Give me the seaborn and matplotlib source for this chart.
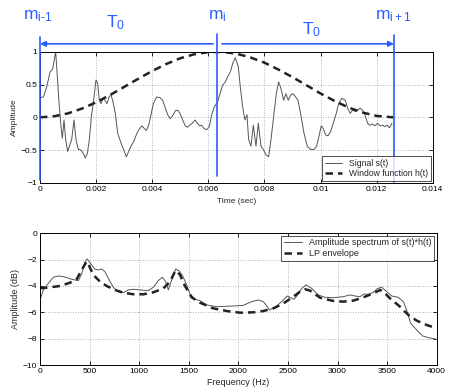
import numpy as np
import pandas as pd
import matplotlib
matplotlib.use("Agg")
import matplotlib.pyplot as plt
import seaborn as sns

# ---- data ----
sig_t = [0.0, 0.000119, 0.000238, 0.000357, 0.000452, 0.000559, 0.000619, 0.000689,
         0.000749, 0.000796, 0.000856, 0.000915, 0.000986, 0.001046, 0.001129, 0.001212,
         0.001284, 0.001367, 0.001426, 0.001497, 0.001569, 0.001616, 0.001688, 0.001759,
         0.001830, 0.001913, 0.001996, 0.002056, 0.002115, 0.002174, 0.002246, 0.002317,
         0.002388, 0.002460, 0.002531, 0.002590, 0.002685, 0.002769, 0.002888, 0.003006,
         0.003078, 0.003161, 0.003244, 0.003339, 0.003458, 0.003553, 0.003636, 0.003720,
         0.003791, 0.003874, 0.003957, 0.004040, 0.004159, 0.004278, 0.004373, 0.004456,
         0.004551, 0.004646, 0.004753, 0.004825, 0.004908, 0.004991, 0.005086, 0.005181,
         0.005264, 0.005336, 0.005431, 0.005526, 0.005609, 0.005692, 0.005764, 0.005847,
         0.005942, 0.006037, 0.006120, 0.006215, 0.006334, 0.006417, 0.006512, 0.006607,
         0.006690, 0.006785, 0.006868, 0.006963, 0.007070, 0.007141, 0.007224, 0.007308,
         0.007379, 0.007438, 0.007521, 0.007605, 0.007700, 0.007783, 0.007878, 0.007961,
         0.008056, 0.008151, 0.008234, 0.008329, 0.008424, 0.008507, 0.008590, 0.008685,
         0.008768, 0.008851, 0.008934, 0.009018, 0.009113, 0.009196, 0.009291, 0.009410,
         0.009529, 0.009648, 0.009766, 0.009861, 0.009944, 0.010027, 0.010099, 0.010182,
         0.010265, 0.010360, 0.010455, 0.010562, 0.010645, 0.010764, 0.010883, 0.010966,
         0.011061, 0.011144, 0.011239, 0.011322, 0.011405, 0.011500, 0.011583, 0.011678,
         0.011761, 0.011856, 0.011939, 0.012034, 0.012129, 0.012212, 0.012296, 0.012379,
         0.012463, 0.012546]
sig_v = [0.30, 0.31, 0.46, 0.69, 0.74, 1.00, 0.62, 0.16,
         -0.14, -0.32, -0.04, -0.34, -0.52, -0.44, -0.34, -0.04,
         -0.34, -0.49, -0.49, -0.52, -0.57, -0.62, -0.55, -0.34,
         0.01, 0.26, 0.57, 0.52, 0.26, 0.21, 0.29, 0.26,
         0.21, 0.31, 0.34, 0.26, 0.06, -0.24, -0.39, -0.52,
         -0.60, -0.52, -0.44, -0.37, -0.24, -0.17, -0.13, -0.17,
         -0.20, -0.12, 0.04, 0.21, 0.31, 0.30, 0.26, 0.16,
         0.04, -0.02, 0.04, 0.10, 0.11, 0.06, -0.04, -0.13,
         -0.15, -0.12, -0.09, -0.04, -0.09, -0.13, -0.12, -0.17,
         -0.19, -0.14, 0.04, 0.16, 0.24, 0.36, 0.49, 0.54,
         0.62, 0.69, 0.82, 0.91, 0.77, 0.46, 0.16, -0.04,
         0.04, -0.34, -0.44, -0.12, -0.44, -0.09, -0.44, -0.49,
         -0.57, -0.60, -0.34, 0.01, 0.36, 0.54, 0.44, 0.26,
         0.36, 0.26, 0.34, 0.36, 0.31, 0.26, 0.06, -0.24,
         -0.44, -0.49, -0.49, -0.44, -0.29, -0.13, -0.17, -0.27,
         -0.28, -0.22, -0.09, 0.06, 0.21, 0.29, 0.26, 0.14,
         0.06, 0.11, 0.09, 0.11, 0.14, 0.11, 0.04, -0.09,
         -0.12, -0.10, -0.13, -0.09, -0.13, -0.12, -0.14, -0.12,
         -0.16, -0.09]

win_t = [0.0, 0.0005, 0.001, 0.0015, 0.002, 0.0025, 0.003, 0.0035, 0.004, 0.0045,
         0.005, 0.0055, 0.006, 0.0065, 0.007, 0.0075, 0.008, 0.0085, 0.009, 0.0095,
         0.010, 0.0105, 0.011, 0.0115, 0.012, 0.0126]
win_v = [0.0, 0.016, 0.061, 0.134, 0.229, 0.341, 0.463, 0.587, 0.706, 0.812,
         0.900, 0.961, 0.994, 0.998, 0.970, 0.913, 0.833, 0.728, 0.613, 0.489,
         0.364, 0.250, 0.150, 0.073, 0.022, 0.0]

spec_f = [0, 34, 84, 134, 185, 235, 319, 387, 420, 454, 477, 521, 555, 588, 622, 655,
          689, 739, 790, 840, 891, 941, 1008, 1092, 1143, 1193, 1234, 1267, 1294, 1328,
          1368, 1402, 1439, 1472, 1513, 1563, 1613, 1681, 1782, 1950, 2050, 2134, 2202,
          2252, 2286, 2313, 2387, 2454, 2494, 2528, 2561, 2598, 2639, 2682, 2739, 2807,
          2874, 2958, 3059, 3126, 3176, 3227, 3267, 3311, 3355, 3402, 3445, 3496, 3546,
          3613, 3664, 3697, 3738, 3798, 3859, 3916, 4000]
spec_v = [-5.06, -4.30, -3.80, -3.34, -3.24, -3.29, -3.49, -3.59, -3.09, -2.15, -1.95,
          -2.41, -2.73, -2.78, -2.71, -2.91, -3.42, -4.10, -4.43, -4.51, -4.30, -4.25,
          -4.30, -4.35, -4.10, -3.59, -3.34, -3.67, -4.30, -3.54, -2.71, -2.84, -3.24,
          -3.80, -4.61, -5.01, -5.11, -5.44, -5.57, -5.52, -5.47, -5.19, -5.06, -5.19,
          -5.52, -5.82, -5.52, -5.06, -4.76, -4.89, -5.01, -4.68, -4.18, -3.92, -4.18,
          -4.68, -4.86, -4.89, -4.81, -4.68, -4.76, -4.81, -4.61, -4.63, -4.51, -4.20,
          -4.10, -4.43, -4.76, -4.86, -5.19, -5.82, -6.84, -7.34, -7.80, -7.92, -8.05]

env_f = [0, 101, 202, 303, 370, 420, 470, 487, 538, 605, 672, 756, 840, 941, 1042,
         1143, 1244, 1311, 1361, 1378, 1412, 1462, 1529, 1613, 1748, 1882, 2017, 2151,
         2252, 2353, 2454, 2555, 2622, 2672, 2723, 2824, 2958, 3059, 3160, 3261, 3361,
         3429, 3462, 3529, 3630, 3714, 3798, 3899, 4000]
env_v = [-4.18, -4.10, -4.00, -3.75, -3.49, -2.78, -2.15, -2.33, -3.16, -3.67, -4.00,
         -4.30, -4.51, -4.63, -4.63, -4.48, -4.18, -3.67, -2.91, -2.84, -3.16, -4.00,
         -4.86, -5.27, -5.70, -5.90, -6.03, -6.00, -5.90, -5.70, -5.32, -4.81, -4.43,
         -4.25, -4.35, -4.89, -5.14, -5.19, -5.11, -4.86, -4.56, -4.30, -4.43, -4.94,
         -5.57, -6.20, -6.63, -6.96, -7.22]

top_xticks = [0, 0.002, 0.004, 0.006, 0.008, 0.01, 0.012, 0.014]
top_xlabels = ["0", "0.002", "0.004", "0.006", "0.008", "0.01", "0.012", "0.014"]
top_yticks = [-1, -0.5, 0, 0.5, 1]
top_ylabels = ["\u22121", "\u22120.5", "0", "0.5", "1"]
bot_xticks = [0, 500, 1000, 1500, 2000, 2500, 3000, 3500, 4000]
bot_yticks = [-10, -8, -6, -4, -2, 0]
bot_ylabels = ["\u221210", "\u22128", "\u22126", "\u22124", "\u22122", "0"]

marks_t = [0.0, 0.00632, 0.01263]
mark_labels = [r"$\mathregular{m_{i\text{-}1}}$", r"$\mathregular{m_i}$", r"$\mathregular{m_{i+1}}$"]

# ---- style ----
sns.set_style("white")
plt.rcParams["font.family"] = ["Liberation Sans", "DejaVu Sans"]
plt.rcParams["mathtext.fontset"] = "custom"
plt.rcParams["mathtext.rm"] = "Liberation Sans"
plt.rcParams["mathtext.it"] = "Liberation Sans"
plt.rcParams["axes.unicode_minus"] = True

W, H = 449, 387
fig = plt.figure(figsize=(W / 100, H / 100), dpi=100)
fig.patch.set_facecolor("white")

def frac(l, t, r, b):
    return [l / W, 1 - b / H, (r - l) / W, (b - t) / H]

ax1 = fig.add_axes(frac(40, 51.7, 432.7, 183))
ax2 = fig.add_axes(frac(40, 233.3, 436.7, 365))

BLUE = "#2a5cff"

def style(ax):
    for s in ax.spines.values():
        s.set_color("black")
        s.set_linewidth(0.7)
        s.set_visible(True)
    ax.tick_params(direction="in", length=3, width=0.6, labelsize=6, pad=2,
                   top=True, right=True, bottom=True, left=True, colors="black")
    ax.grid(True, linestyle=(0, (1, 2)), color="#999999", linewidth=0.6)
    ax.set_axisbelow(True)

# top plot
df_sig = pd.DataFrame({"t": sig_t, "v": sig_v})
df_win = pd.DataFrame({"t": win_t, "v": win_v})
sns.lineplot(data=df_sig, x="t", y="v", ax=ax1, color="#555555", linewidth=0.7,
             label="Signal s(t)", sort=False, estimator=None)
sns.lineplot(data=df_win, x="t", y="v", ax=ax1, color="#222222", linewidth=1.8,
             linestyle=(0, (3, 2)), label="Window function h(t)", sort=False, estimator=None)
ax1.set_xlim(0, 0.014)
ax1.set_ylim(-1, 1)
ax1.set_xticks(top_xticks)
ax1.set_xticklabels(top_xlabels)
ax1.set_yticks(top_yticks)
ax1.set_yticklabels(top_ylabels)
ax1.set_xlabel("Time (sec)", fontsize=6, labelpad=4)
ax1.set_ylabel("Amplitude", fontsize=6, labelpad=2)
style(ax1)
leg1 = ax1.legend(loc="lower right", fontsize=6.2, frameon=True, fancybox=False,
                  edgecolor="black", borderaxespad=0.25, handlelength=2.0,
                  borderpad=0.3, labelspacing=0.2)
leg1.get_frame().set_linewidth(0.6)

# blue annotations
line_spans = [(1.22, -0.95), (1.27, -0.90), (1.26, -0.98)]
for t, (y0, y1) in zip(marks_t, line_spans):
    ax1.plot([t, t], [y0, y1], color=BLUE, linewidth=1.2, clip_on=False, zorder=5)
ax1.annotate("", xy=(0.0, 1.12), xytext=(0.00617, 1.12),
             arrowprops=dict(arrowstyle="-|>", color=BLUE, lw=1.2, mutation_scale=8,
                             shrinkA=0, shrinkB=0), annotation_clip=False)
ax1.annotate("", xy=(0.01262, 1.12), xytext=(0.00649, 1.12),
             arrowprops=dict(arrowstyle="-|>", color=BLUE, lw=1.2, mutation_scale=8,
                             shrinkA=0, shrinkB=0), annotation_clip=False)
label_pos = [(-0.00061, 1.50), (0.00599, 1.50), (0.01194, 1.50)]
for (x, y), s in zip(label_pos, mark_labels):
    ax1.text(x, y, s, color=BLUE, fontsize=12.5, ha="left", va="baseline", clip_on=False)
ax1.text(0.00235, 1.37, r"$\mathregular{T_0}$", color=BLUE, fontsize=12.5,
         ha="left", va="baseline", clip_on=False)
ax1.text(0.00934, 1.27, r"$\mathregular{T_0}$", color=BLUE, fontsize=12.5,
         ha="left", va="baseline", clip_on=False)

# bottom plot
df_spec = pd.DataFrame({"f": spec_f, "v": spec_v})
df_env = pd.DataFrame({"f": env_f, "v": env_v})
sns.lineplot(data=df_spec, x="f", y="v", ax=ax2, color="#555555", linewidth=0.7,
             label="Amplitude spectrum of s(t)*h(t)", sort=False, estimator=None)
sns.lineplot(data=df_env, x="f", y="v", ax=ax2, color="#222222", linewidth=1.8,
             linestyle=(0, (3, 2)), label="LP envelope", sort=False, estimator=None)
ax2.set_xlim(0, 4000)
ax2.set_ylim(-10, 0)
ax2.set_xticks(bot_xticks)
ax2.set_xticklabels([str(v) for v in bot_xticks])
ax2.set_yticks(bot_yticks)
ax2.set_yticklabels(bot_ylabels)
ax2.set_xlabel("Frequency (Hz)", fontsize=6.5, labelpad=2)
ax2.set_ylabel("Amplitude (dB)", fontsize=6.5, labelpad=2)
style(ax2)
leg2 = ax2.legend(loc="upper right", fontsize=6.5, frameon=True, fancybox=False,
                  edgecolor="black", borderaxespad=0.25, handlelength=2.0,
                  borderpad=0.3, labelspacing=0.2)
leg2.get_frame().set_linewidth(0.6)

fig.savefig("out.png", dpi=100, facecolor="white")
